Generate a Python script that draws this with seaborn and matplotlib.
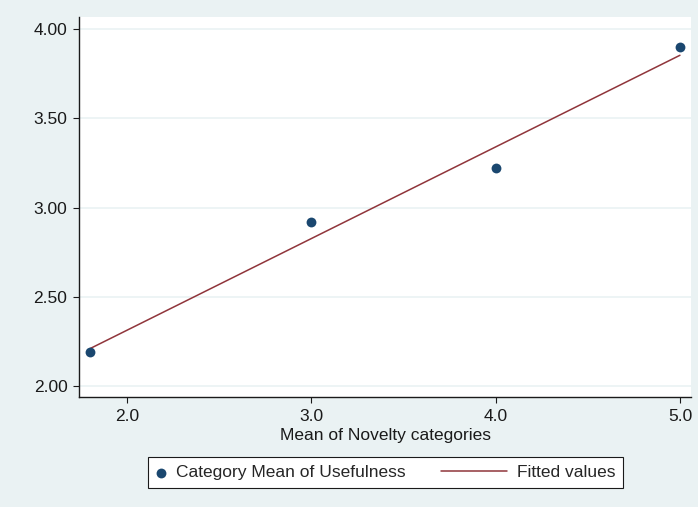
import numpy as np
import pandas as pd
import matplotlib
matplotlib.use("Agg")
import matplotlib.pyplot as plt
from matplotlib.legend_handler import HandlerLine2D
import seaborn as sns

# Category means
novelty = [1.8, 3.0, 4.0, 5.0]
usefulness = [2.19, 2.92, 3.22, 3.90]
xticks = [2.0, 3.0, 4.0, 5.0]
yticks = [2.0, 2.5, 3.0, 3.5, 4.0]

bg = "#eaf2f3"
navy = "#1a476f"
maroon = "#90353b"
ink = "#1a1a1a"
fs = 12.5

sns.set_theme(style="white")
plt.rcParams['font.family'] = ['Liberation Sans', 'DejaVu Sans']


class LongLine(HandlerLine2D):
    # legend line that reaches further left than the handle box
    def __init__(self, extra, **kw):
        super().__init__(**kw)
        self.extra = extra

    def get_xdata(self, legend, xdescent, ydescent, width, height, fontsize):
        x0 = -xdescent - self.extra * fontsize
        x1 = -xdescent + width
        return np.array([x0, x1]), np.array([(x0 + x1) / 2])


df = pd.DataFrame({'novelty': novelty, 'usefulness': usefulness})

fig = plt.figure(figsize=(6.98, 5.07), dpi=100, facecolor=bg)
ax = fig.add_axes([79 / 698, 1 - 397 / 507, (691 - 79) / 698, (397 - 17) / 507])
ax.set_facecolor("white")

# fitted line (linear regression of the means)
sns.regplot(data=df, x='novelty', y='usefulness', scatter=False, ci=None,
            color=maroon, line_kws={'lw': 1.1}, ax=ax, label='Fitted values')
sns.scatterplot(data=df, x='novelty', y='usefulness', color=navy, s=50,
                edgecolor=navy, linewidth=0, ax=ax, label='Category Mean of Usefulness',
                zorder=3)

ax.set_xlim(1.74, 5.06)
ax.set_ylim(1.94, 4.067)
ax.set_xticks(xticks)
ax.set_xticklabels([f"{t:.1f}" for t in xticks])
ax.set_yticks(yticks)
ax.set_yticklabels([f"{t:.2f}" for t in yticks])
ax.yaxis.grid(True, color=bg, lw=1.2)
ax.set_axisbelow(True)

for s in ['top', 'right']:
    ax.spines[s].set_visible(False)
for s in ['left', 'bottom']:
    ax.spines[s].set_color(ink)
    ax.spines[s].set_linewidth(1.0)

ax.tick_params(axis='both', which='major', direction='out', length=4.3, width=0.8,
               color=ink, labelsize=fs, labelcolor=ink, pad=4,
               left=True, bottom=True)
ax.set_xlabel("Mean of Novelty categories", fontsize=fs, color=ink, labelpad=3)
ax.set_ylabel("")

# legend: marker entry first, then the fitted line
handles, labels = ax.get_legend_handles_labels()
order = [labels.index('Category Mean of Usefulness'), labels.index('Fitted values')]
if ax.get_legend():
    ax.get_legend().remove()
line_handle = handles[labels.index('Fitted values')]
leg = fig.legend([handles[i] for i in order], [labels[i] for i in order],
                 loc='center', bbox_to_anchor=(385.5 / 698, 1 - 472.5 / 507),
                 ncol=2, fontsize=fs, frameon=True, fancybox=False,
                 edgecolor=ink, facecolor="white", framealpha=1,
                 handlelength=0.6, columnspacing=5.2, handletextpad=0.6,
                 borderpad=0.45, markerscale=1.0,
                 handler_map={line_handle: LongLine(3.2)})
leg.get_frame().set_linewidth(0.8)

fig.savefig("out.png", dpi=100, facecolor=bg)
